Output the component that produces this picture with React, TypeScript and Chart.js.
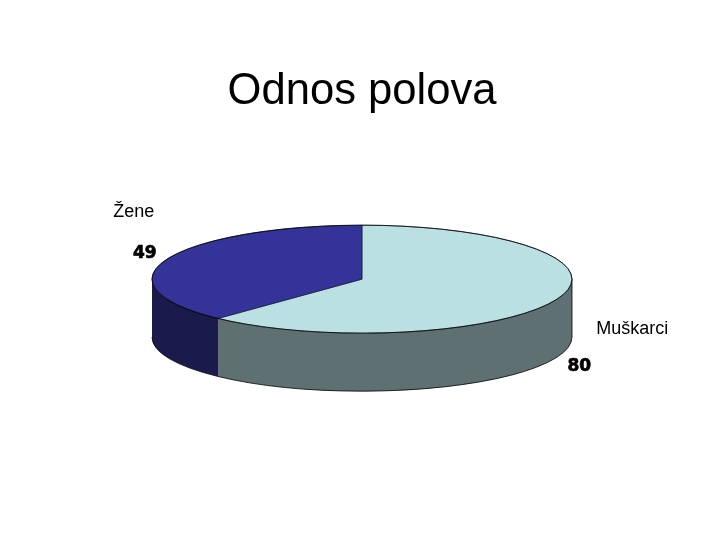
import React, { useEffect, useRef } from "react";
import { Chart, registerables } from "chart.js";

Chart.register(...registerables);

const titleText = "Odnos polova";
const categories = ["Muškarci", "Žene"];
const values = [80, 49];
const topColors = ["#BBE0E3", "#333399"];
const sideColors = ["#5F7072", "#1A1A4D"];

const SQUASH = 54 / 210;
const DEPTH = 58;
const RADIUS = 210;
const labelOffsets = [
  { name: [75, 30], value: [22, 68] },
  { name: [-33, -47], value: [-22, -6] },
];

const pie3d = {
  id: "pie3d",
  beforeDatasetsDraw(chart: any) {
    const ctx = chart.ctx;
    const arcs = chart.getDatasetMeta(0).data;
    ctx.save();
    arcs.forEach((arc: any, i: number) => {
      const start = Math.max(arc.startAngle, 0);
      const end = Math.min(arc.endAngle, Math.PI);
      if (end <= start) return;
      const rx = arc.outerRadius;
      const ry = rx * SQUASH;
      ctx.beginPath();
      ctx.ellipse(arc.x, arc.y, rx, ry, 0, start, end);
      ctx.ellipse(arc.x, arc.y + DEPTH, rx, ry, 0, end, start, true);
      ctx.closePath();
      ctx.fillStyle = sideColors[i];
      ctx.fill();
      ctx.beginPath();
      ctx.ellipse(arc.x, arc.y + DEPTH, rx, ry, 0, start, end);
      ctx.strokeStyle = "#000";
      ctx.lineWidth = 0.8;
      ctx.stroke();
    });
    const a = arcs[0];
    ctx.beginPath();
    ctx.moveTo(a.x + a.outerRadius, a.y);
    ctx.lineTo(a.x + a.outerRadius, a.y + DEPTH);
    ctx.strokeStyle = "#000";
    ctx.lineWidth = 0.8;
    ctx.stroke();
    ctx.restore();
    ctx.save();
    ctx.translate(a.x, a.y);
    ctx.scale(1, SQUASH);
    ctx.translate(-a.x, -a.y);
  },
  afterDatasetsDraw(chart: any) {
    const ctx = chart.ctx;
    ctx.restore();
    const arcs = chart.getDatasetMeta(0).data;
    const a = arcs[0];
    ctx.save();
    ctx.strokeStyle = "#000";
    ctx.lineWidth = 0.8;
    ctx.beginPath();
    ctx.ellipse(a.x, a.y, a.outerRadius, a.outerRadius * SQUASH, 0, 0, Math.PI * 2);
    ctx.stroke();
    ctx.fillStyle = "#000";
    ctx.textAlign = "center";
    ctx.textBaseline = "middle";
    arcs.forEach((arc: any, i: number) => {
      const mid = (arc.startAngle + arc.endAngle) / 2;
      const rimX = arc.x + arc.outerRadius * Math.cos(mid);
      const rimY = arc.y + arc.outerRadius * SQUASH * Math.sin(mid);
      const off = labelOffsets[i];
      ctx.font = '18px "Liberation Sans"';
      ctx.fillText(categories[i], rimX + off.name[0], rimY + off.name[1]);
      ctx.font = 'bold 17px "DejaVu Sans"';
      ctx.lineWidth = 0.7;
      ctx.fillText(String(values[i]), rimX + off.value[0], rimY + off.value[1]);
      ctx.strokeText(String(values[i]), rimX + off.value[0], rimY + off.value[1]);
    });
    ctx.restore();
  },
};

export default function App() {
  const ref = useRef<HTMLCanvasElement>(null);
  useEffect(() => {
    const chart = new Chart(ref.current!, {
      type: "pie",
      data: {
        labels: categories,
        datasets: [
          {
            data: values,
            backgroundColor: topColors,
            borderColor: "#000",
            borderWidth: 0.8,
            clip: false,
          } as any,
        ],
      },
      options: {
        responsive: false,
        animation: false,
        devicePixelRatio: 1,
        radius: RADIUS,
        layout: { padding: { left: 152, right: 148, top: 0, bottom: 102 } },
        plugins: {
          legend: { display: false },
          tooltip: { enabled: false },
          title: {
            display: true,
            text: titleText,
            color: "#000",
            font: { family: '"Liberation Sans"', size: 43.6, weight: "normal" },
            padding: { top: 66, bottom: 2 },
          },
        },
      } as any,
      plugins: [pie3d],
    });
    return () => chart.destroy();
  }, []);
  return (
    <div style={{ position: "absolute", left: 0, top: 0, width: 720, height: 540 }}>
      <canvas ref={ref} width={720} height={540} style={{ display: "block" }} />
    </div>
  );
}
